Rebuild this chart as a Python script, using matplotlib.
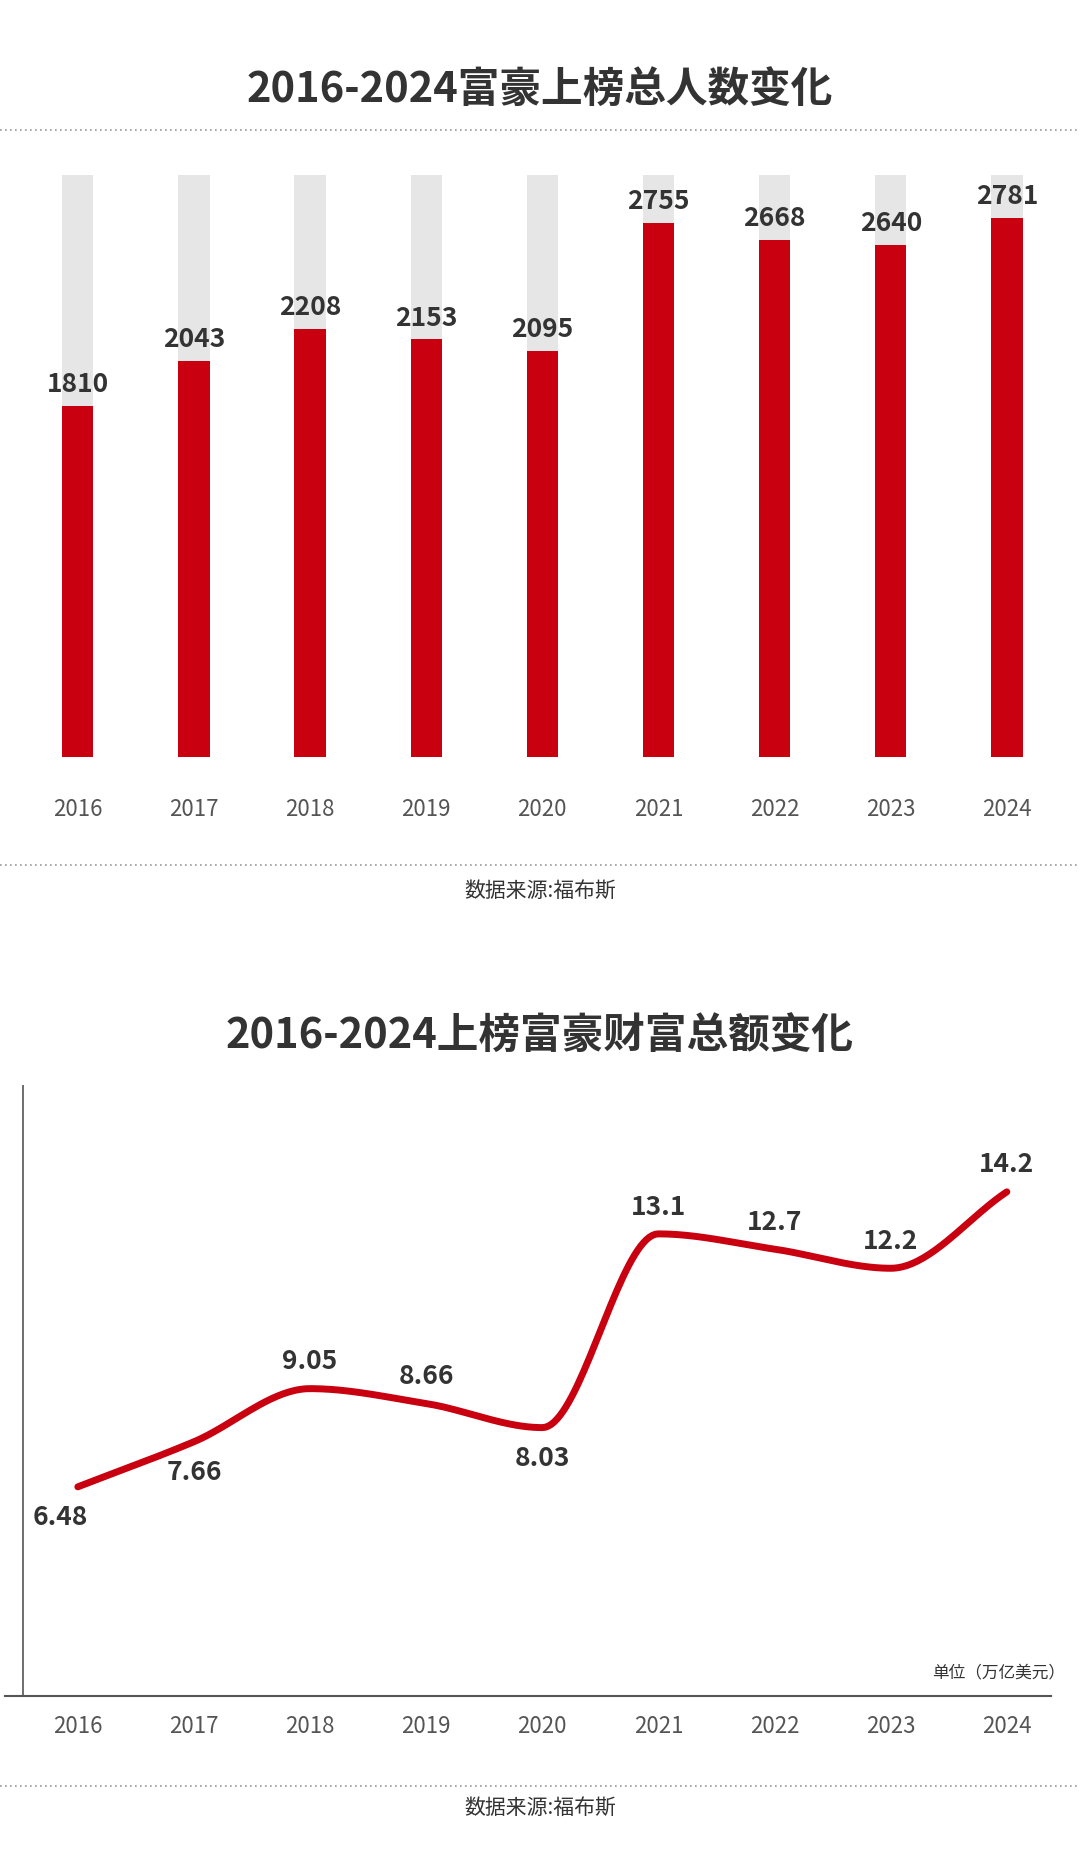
import numpy as np
import matplotlib.pyplot as plt
from matplotlib.lines import Line2D
from matplotlib import font_manager

# pick whichever CJK family name the font manager actually knows
names = {f.name for f in font_manager.fontManager.ttflist}
cjk = [n for n in ["Noto Sans CJK SC", "Noto Sans CJK JP", "Noto Sans CJK TC",
                   "Noto Sans CJK KR", "Noto Sans SC"] if n in names]
if not cjk:
    for path in font_manager.findSystemFonts():
        if "NotoSansCJK" in path or "NotoSansCJK".lower() in path.lower():
            font_manager.fontManager.addfont(path)
    names = {f.name for f in font_manager.fontManager.ttflist}
    cjk = [n for n in names if "CJK" in n]
plt.rcParams["font.family"] = cjk + ["DejaVu Sans"]

years = ["2016", "2017", "2018", "2019", "2020", "2021", "2022", "2023", "2024"]
people = [1810, 2043, 2208, 2153, 2095, 2755, 2668, 2640, 2781]
wealth = [6.48, 7.66, 9.05, 8.66, 8.03, 13.1, 12.7, 12.2, 14.2]
wealth_labels = ["6.48", "7.66", "9.05", "8.66", "8.03", "13.1", "12.7", "12.2", "14.2"]
label_above = [False, False, True, True, False, True, True, True, True]

RED = "#c8000f"
GREY = "#e6e6e6"
TXT = "#333333"

fig = plt.figure(figsize=(10.8, 18.64), dpi=100)
fig.patch.set_facecolor("white")
x = np.arange(len(years))
XL = (-0.67, 8.63)


def dotted(y):
    fig.add_artist(Line2D([0, 1], [y, y], transform=fig.transFigure,
                          color="#999999", lw=1.2, ls=(0, (1, 2))))


# --- top: people count ---
fig.text(0.5, 0.952, "2016-2024富豪上榜总人数变化", ha="center", va="center",
         fontsize=30, fontweight="bold", color=TXT)
dotted(0.930)
ax1 = fig.add_axes([0, 0.594, 1, 0.312])
ax1.bar(x, [3000] * len(x), width=0.27, color=GREY)
ax1.bar(x, people, width=0.27, color=RED)
for xi, v in zip(x, people):
    ax1.text(xi, v + 40, str(v), ha="center", va="bottom", fontsize=19,
             fontweight="bold", color=TXT)
ax1.set_xlim(*XL)
ax1.set_ylim(0, 3000)
ax1.axis("off")
for xi, yr in zip(x, years):
    ax1.text(xi, -0.09, yr, transform=ax1.get_xaxis_transform(), ha="center",
             va="center", fontsize=16, color="#555555")
dotted(0.536)
fig.text(0.5, 0.522, "数据来源:福布斯", ha="center", va="center", fontsize=15, color=TXT)

# --- bottom: total wealth ---
fig.text(0.5, 0.444, "2016-2024上榜富豪财富总额变化", ha="center", va="center",
         fontsize=30, fontweight="bold", color=TXT)
ax2 = fig.add_axes([0, 0.090, 1, 0.328])

# smooth curve through the points (cubic Hermite, monotone-limited tangents)
xs = x.astype(float)
ys = np.array(wealth)
d = np.diff(ys)
m = np.zeros_like(ys)
m[0], m[-1] = d[0], d[-1]
for i in range(1, len(ys) - 1):
    m[i] = 0 if d[i - 1] * d[i] <= 0 else 2 / (1 / d[i - 1] + 1 / d[i])
cx, cy = [], []
for i in range(len(ys) - 1):
    t = np.linspace(0, 1, 40)
    h00 = 2 * t**3 - 3 * t**2 + 1
    h10 = t**3 - 2 * t**2 + t
    h01 = -2 * t**3 + 3 * t**2
    h11 = t**3 - t**2
    cx.extend(xs[i] + t)
    cy.extend(h00 * ys[i] + h10 * m[i] + h01 * ys[i + 1] + h11 * m[i + 1])
ax2.plot(cx, cy, color=RED, lw=5, solid_capstyle="round")

for xi, v, lab, up in zip(x, wealth, wealth_labels, label_above):
    dx = -0.15 if xi == 0 else 0
    ax2.text(xi + dx, v + (0.35 if up else -0.45), lab, ha="center",
             va="bottom" if up else "top", fontsize=19, fontweight="bold", color=TXT)

ax2.set_xlim(*XL)
ax2.set_ylim(1.0, 17.0)
ax2.axis("off")
ax2.axvline(-0.47, color="#555555", lw=1.2)
ax2.axhline(1.0, xmin=0.005, xmax=0.973, color="#555555", lw=1.5, clip_on=False)
ax2.text(8.5, 1.4, "单位（万亿美元）", ha="right", va="bottom", fontsize=12, color=TXT)
for xi, yr in zip(x, years):
    ax2.text(xi, -0.05, yr, transform=ax2.get_xaxis_transform(), ha="center",
             va="center", fontsize=16, color="#555555")
dotted(0.042)
fig.text(0.5, 0.030, "数据来源:福布斯", ha="center", va="center", fontsize=15, color=TXT)

fig.savefig("out.png", dpi=100, facecolor="white")
